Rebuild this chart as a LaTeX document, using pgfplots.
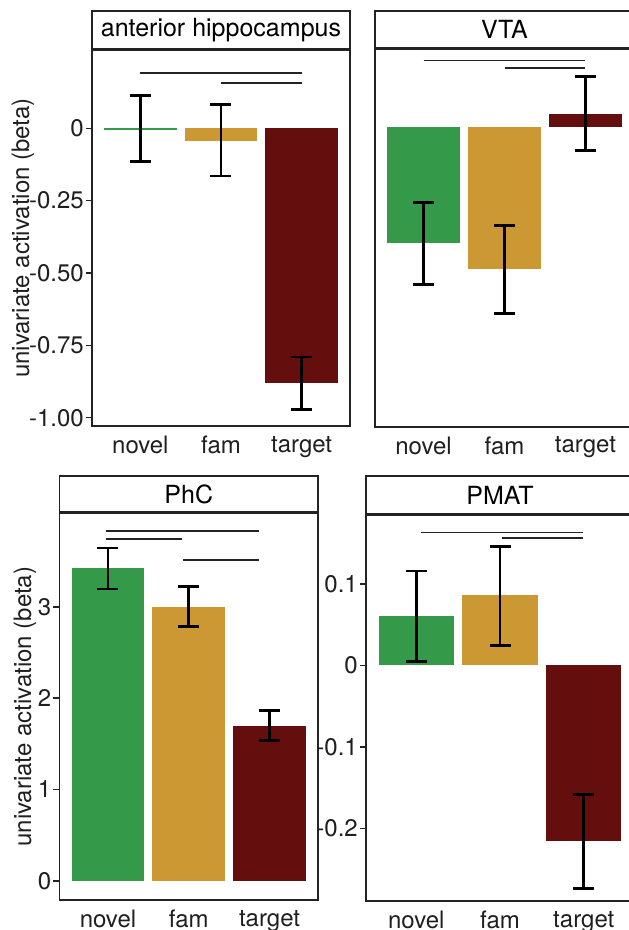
\documentclass[border=0pt]{standalone}
\usepackage{fontspec}
\setmainfont{TeX Gyre Heros}
\usepackage{pgfplots}
\pgfplotsset{compat=1.18}
\definecolor{cgreen}{RGB}{52,153,72}
\definecolor{cgold}{RGB}{204,152,51}
\definecolor{cred}{RGB}{101,14,14}
\definecolor{frame}{RGB}{35,35,35}
\pgfplotsset{
  every axis title shift=0pt,
  panel/.style={
    scale only axis, anchor=south west,
    xmin=0.4, xmax=3.6,
    axis line style={draw=frame, line width=1.8pt},
    xtick={1,2,3}, xticklabels={novel,fam,target},
    xtick style={draw=none},
    ytick pos=left, tick align=outside,
    major tick length=6pt,
    ytick style={draw=frame, line width=1.6pt},
    tick label style={font=\fontsize{24}{28}\selectfont, text=black!88},
    xticklabel style={inner sep=2pt, yshift=-2pt},
    yticklabel style={inner sep=2pt},
    label style={font=\fontsize{24}{28}\selectfont, text=black!88},
    title style={draw=frame, line width=1.8pt, at={(0.5,1)}, anchor=south,
      yshift=0pt, inner sep=0pt, font=\fontsize{25}{30}\selectfont, text=black},
    clip=false,
  },
  bar/.style={ybar, bar width=0.9, bar shift=0pt, draw=none, forget plot},
  eb/.style={draw=none, mark=none, forget plot,
    error bars/.cd, y dir=both, y explicit,
    error bar style={draw=black, line width=2.8pt},
    error mark options={draw=black, rotate=90, mark size=10.5pt, line width=2.8pt}},
  sig/.style={draw=frame, line width=1.8pt, forget plot, mark=none},
}
\begin{document}
\begin{tikzpicture}[x=1pt,y=1pt]
\useasboundingbox (0,0) rectangle (629,930);
\clip (0,0) rectangle (629,930);

% anterior hippocampus
\begin{axis}[panel, at={(92pt,504pt)}, width=258pt, height=376pt,
  ymin=-1.0287, ymax=0.2706,
  ytick={-1,-0.75,-0.5,-0.25,0}, yticklabels={-1.00,-0.75,-0.50,-0.25,0},
  ylabel={univariate activation (beta)},
  ylabel style={at={(axis description cs:-0.2674,0.5)}, anchor=center},
  title={anterior hippocampus},
  title style={minimum width=258pt, minimum height=37.7pt}]
\addplot[bar, fill=cgreen, draw=cgreen, line width=0.6pt] coordinates {(1,-0.002)};
\addplot[bar, fill=cgold] coordinates {(2,-0.043)};
\addplot[bar, fill=cred] coordinates {(3,-0.881)};
\addplot[eb] coordinates {(1,0) +- (0,0.114) (2,-0.041) +- (0,0.124) (3,-0.881) +- (0,0.091)};
\addplot[sig] coordinates {(1,0.190) (3,0.190)};
\addplot[sig] coordinates {(2,0.1555) (3,0.1555)};
\end{axis}

% VTA
\begin{axis}[panel, at={(375pt,503.3pt)}, width=259pt, height=377.4pt,
  ymin=-1.036, ymax=0.268,
  ytick=\empty,
  title={VTA},
  title style={minimum width=259pt, minimum height=37.6pt}]
\addplot[bar, fill=cgreen] coordinates {(1,-0.403)};
\addplot[bar, fill=cgold] coordinates {(2,-0.492)};
\addplot[bar, fill=cred] coordinates {(3,0.044)};
\addplot[eb] coordinates {(1,-0.403) +- (0,0.1405) (2,-0.493) +- (0,0.1527) (3,0.046) +- (0,0.129)};
\addplot[sig] coordinates {(1,0.229) (3,0.229)};
\addplot[sig] coordinates {(2,0.203) (3,0.203)};
\end{axis}

% PhC
\begin{axis}[panel, at={(59.5pt,30pt)}, width=258.5pt, height=386.7pt,
  ymin=-0.211, ymax=4.024,
  ytick={0,1,2,3}, yticklabels={0,1,2,3},
  ylabel={univariate activation (beta)},
  ylabel style={at={(axis description cs:-0.1335,0.5)}, anchor=center},
  title={PhC},
  title style={minimum width=258.5pt, minimum height=36.3pt}]
\addplot[bar, fill=cgreen] coordinates {(1,3.42)};
\addplot[bar, fill=cgold] coordinates {(2,3.00)};
\addplot[bar, fill=cred] coordinates {(3,1.70)};
\addplot[eb] coordinates {(1,3.42) +- (0,0.2245) (2,3.00) +- (0,0.219) (3,1.70) +- (0,0.161)};
\addplot[sig] coordinates {(0.975,3.834) (2.87,3.834)};
\addplot[sig] coordinates {(0.975,3.739) (1.92,3.739)};
\addplot[sig] coordinates {(1.93,3.516) (2.87,3.516)};
\end{axis}

% PMAT
\begin{axis}[panel, at={(366pt,29pt)}, width=268pt, height=386pt,
  ymin=-0.289, ymax=0.1844,
  ytick={-0.2,-0.1,0,0.1}, yticklabels={-0.2,-0.1,0,0.1},
  title={PMAT},
  title style={minimum width=268pt, minimum height=38.3pt}]
\addplot[bar, fill=cgreen] coordinates {(1,0.0605)};
\addplot[bar, fill=cgold] coordinates {(2,0.0859)};
\addplot[bar, fill=cred] coordinates {(3,-0.2152)};
\addplot[eb] coordinates {(1,0.0603) +- (0,0.0554) (2,0.0853) +- (0,0.0607) (3,-0.2158) +- (0,0.0579)};
\addplot[sig] coordinates {(1.06,0.163) (2.99,0.163)};
\addplot[sig] coordinates {(2.02,0.156) (2.99,0.156)};
\end{axis}
\end{tikzpicture}
\end{document}
